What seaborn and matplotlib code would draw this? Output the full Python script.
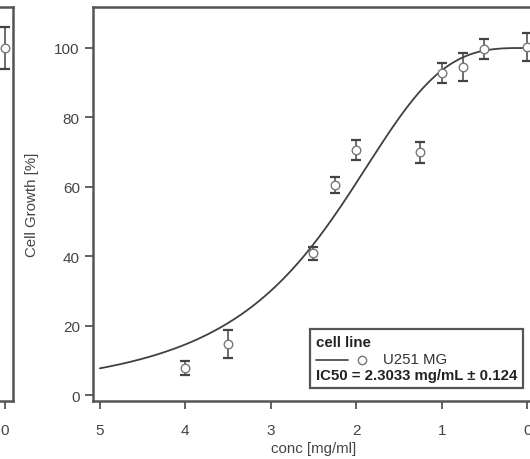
import numpy as np
import pandas as pd
import seaborn as sns
import matplotlib.pyplot as plt
from matplotlib.lines import Line2D
from matplotlib.offsetbox import AnchoredOffsetbox, VPacker, HPacker, TextArea, DrawingArea

# measured points (concentration in mg/ml, growth in %)
conc = [4.0, 3.5, 2.5, 2.25, 2.0, 1.25, 1.0, 0.75, 0.5, 0.0]
growth = [7.8, 14.8, 40.8, 60.5, 70.6, 70.0, 92.8, 94.5, 99.7, 100.2]
growth_err = [2.0, 4.0, 1.8, 2.4, 3.0, 3.0, 3.0, 4.0, 3.0, 4.0]

# neighbouring panel (only its right edge is visible)
left_conc = [0.0]
left_growth = [100.0]
left_err = [6.0]

# Hill fit parameters
ic50 = 2.3033
ic50_err = 0.124
hill = 3.2
top = 100.0
bottom = 0.0

sns.set_style("ticks")
plt.rcParams["font.family"] = ["Liberation Sans", "DejaVu Sans"]

grey = "#555555"
fig = plt.figure(figsize=(5.3, 4.6), dpi=100)
ax = fig.add_axes([0.1755, 0.126, 0.832, 0.8566])
ax_left = fig.add_axes([-0.553, 0.126, 0.577, 0.8566])

x_fit = np.linspace(0, 5, 300)
fit = pd.DataFrame({"conc": x_fit,
                    "growth": bottom + (top - bottom) / (1 + (x_fit / ic50) ** hill)})
sns.lineplot(data=fit, x="conc", y="growth", ax=ax, color="#404040", lw=1.3)

ax.errorbar(conc, growth, yerr=growth_err, fmt="none", ecolor="#444444",
            elinewidth=1.1, capsize=3.5, capthick=1.6, zorder=3)
sns.scatterplot(x=conc, y=growth, ax=ax, marker="o", s=38, facecolor="white",
                edgecolor="#777777", linewidth=1.0, zorder=4)

ax_left.errorbar(left_conc, left_growth, yerr=left_err, fmt="none", ecolor="#444444",
                 elinewidth=1.1, capsize=3.5, capthick=1.6, zorder=3)
sns.scatterplot(x=left_conc, y=left_growth, ax=ax_left, marker="o", s=38,
                facecolor="white", edgecolor="#777777", linewidth=1.0, zorder=4)

for a in (ax, ax_left):
    a.set_xlim(5.08, -0.08)
    a.set_ylim(-1.7, 111.8)
    for s in a.spines.values():
        s.set_color(grey)
        s.set_linewidth(1.8)
    a.tick_params(colors=grey, labelcolor="#444444", width=1.3, length=6,
                  labelsize=11)
    a.tick_params(axis="x", pad=10)
ax_left.set_xlim(3.5, -0.09)
ax_left.set_xticks([0])
ax_left.set_yticks([])
ax_left.set_xlabel("")
ax_left.set_ylabel("")

ax.set_xticks([5, 4, 3, 2, 1, 0])
ax.set_yticks([0, 20, 40, 60, 80, 100])
ax.set_xlabel("conc [mg/ml]", fontsize=10.8, color="#444444", labelpad=3)
ax.set_ylabel("Cell Growth [%]", fontsize=10.8, color="#444444", labelpad=11)

# legend box
txt = dict(fontsize=10.8, color="#222222")
title = TextArea("cell line", textprops=dict(txt, fontweight="bold"))
da = DrawingArea(42, 10, 0, 0)
da.add_artist(Line2D([0, 23], [4, 4], color="#404040", lw=1.2))
da.add_artist(Line2D([33], [4], marker="o", mfc="white", mec="#777777", ms=6, mew=1.0))
row = HPacker(children=[da, TextArea("U251 MG", textprops=dict(txt, color="#333333"))],
              sep=6, align="center")
ic50_txt = TextArea(f"IC50 = {ic50} mg/mL \u00b1 {ic50_err}",
                    textprops=dict(txt, fontweight="bold"))
ic50_row = HPacker(children=[ic50_txt], pad=0, sep=0)
box = VPacker(children=[title, row, ic50_row], sep=2, align="left", pad=0)
leg = AnchoredOffsetbox(loc="lower right", child=box, pad=0.4, borderpad=0,
                        frameon=True, bbox_to_anchor=(0.975, 0.033),
                        bbox_transform=ax.transAxes)
leg.patch.set_boxstyle("square", pad=0)
leg.patch.set_edgecolor(grey)
leg.patch.set_linewidth(1.6)
ax.add_artist(leg)

fig.savefig("out.png", dpi=100)
